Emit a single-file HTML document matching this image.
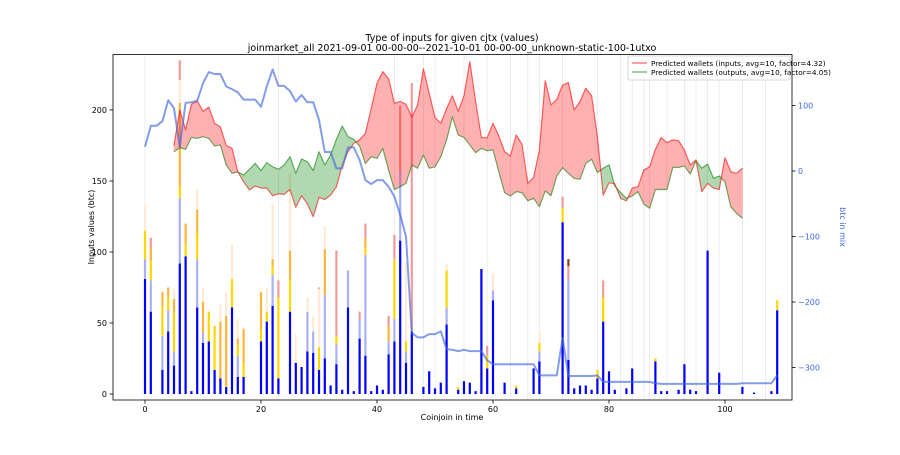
<!DOCTYPE html>
<html><head><meta charset="utf-8"><style>
body{margin:0;background:#fff;font-family:"Liberation Sans","DejaVu Sans",sans-serif}
svg text{font-family:"DejaVu Sans","Liberation Sans",sans-serif}
</style></head><body>
<svg id="chart" width="900" height="450" xmlns="http://www.w3.org/2000/svg">
<text x="452" y="41" font-size="9.5" text-anchor="middle">Type of inputs for given cjtx (values)</text>
<text x="452" y="51" font-size="9.5" text-anchor="middle">joinmarket_all 2021-09-01 00-00-00--2021-10-01 00-00-00_unknown-static-100-1utxo</text>
<g id="grid"></g><g id="bars"></g>
<g id="fillsRed" opacity="0.3"></g>
<g id="fillsGreen" opacity="0.3"></g>
<g id="lines"></g><g id="axes"></g>
<rect x="113" y="54.5" width="679" height="345.5" fill="none" stroke="#000" stroke-width="0.8"/>
<g>
<rect x="628" y="56" width="162" height="24" fill="#fff" fill-opacity="0.8" stroke="#ccc" stroke-width="0.8" rx="2"/>
<line x1="632" y1="63" x2="647" y2="63" stroke="#ff0000" stroke-opacity="0.5" stroke-width="1.5"/>
<text x="651" y="66" font-size="7.3">Predicted wallets (inputs, avg=10, factor=4.32)</text>
<line x1="632" y1="72" x2="647" y2="72" stroke="#008000" stroke-opacity="0.5" stroke-width="1.5"/>
<text x="651" y="75" font-size="7.3">Predicted wallets (outputs, avg=10, factor=4.05)</text>
</g>
<text x="452" y="420" font-size="8" text-anchor="middle">Coinjoin in time</text>
<text x="0" y="0" font-size="8" text-anchor="middle" transform="translate(94,227) rotate(-90)">Inputs values (btc)</text>
<text x="0" y="0" font-size="8" text-anchor="middle" fill="#4169e1" transform="translate(840,227) rotate(90)">btc in mix</text>
</svg>
<script>
const barIndex=[0,1,3,4,5,6,7,8,9,10,11,12,13,14,15,16,17,20,21,22,23,25,26,27,28,29,30,31,32,33,34,35,36,37,38,39,40,41,42,43,44,45,46,48,49,50,51,52,54,55,56,57,58,59,60,62,64,67,68,72,73,74,75,76,77,78,79,80,81,83,84,88,89,90,92,93,94,95,97,99,103,105,108,109];
const blueTop=[81,58,17,44,20,92,97,2,61,36,37,17,11,5,61,12,12,37,51,62,11,58,22,19,30,29,17,25,6,21,3,61,2,39,27,2,6,3,28,37,108,22,44,5,16,4,8,49,3,9,8,2,88,18,66,8,4,18,23,121,24,4,6,6,3,11,51,16,3,4,18,23,2,2,3,21,3,2,101,15,5,1,2,59];
const lightTop=[95,80,41,59,30,138,0,0,95,43,0,0,0,0,0,27,0,0,0,84,0,0,0,0,58,44,0,70,0,35,0,87,0,52,98,0,0,0,37,53,157,30,0,0,0,0,0,61,0,0,0,0,0,0,73,0,0,0,30,0,80,0,0,0,0,0,0,0,0,0,0,0,0,0,0,0,0,0,0,0,0,0,0,0];
const goldTop=[115,94,62,68,57,146,106,0,113,0,58,48,0,6,81,35,22,45,58,90,68,81,0,0,0,0,33,0,0,41,0,0,0,0,103,0,0,0,0,95,0,37,0,0,0,0,0,87,5,0,0,0,0,27,0,0,6,0,36,131,0,0,0,0,0,17,68,0,0,0,0,25,0,0,0,0,0,0,0,0,0,0,0,66];
const orangeTop=[0,103,72,75,67,205,120,0,130,65,0,0,51,55,0,39,46,72,0,95,0,101,0,0,0,0,0,102,0,0,0,0,0,0,110,0,0,0,48,0,0,0,0,0,0,0,0,0,0,0,0,0,0,0,0,0,0,0,0,0,0,0,0,0,0,0,0,0,0,0,0,0,0,0,0,0,0,0,0,0,0,0,0,0];
const bisqueTop=[133,0,0,0,74,221,0,0,144,75,0,0,63,72,106,53,0,0,75,134,0,156,42,0,68,55,74,118,0,0,0,0,0,0,0,0,0,0,0,0,0,93,0,0,0,0,0,92,0,0,0,0,0,0,85,0,0,0,44,0,0,0,0,0,0,0,0,0,0,0,0,0,0,0,0,0,0,0,0,0,0,0,0,0];
const pinkTop=[0,110,0,0,0,235,0,0,0,0,0,0,0,0,0,0,0,0,0,0,80,0,0,0,0,0,75,0,0,101,0,0,0,58,120,0,0,0,55,112,203,0,219,0,0,0,0,0,0,0,0,0,0,34,0,0,0,0,0,139,90,0,0,0,0,0,80,0,0,0,0,0,0,0,0,0,0,0,0,0,0,0,0,0];
const brownTop=[0,0,0,0,0,0,0,0,0,0,0,0,0,0,0,0,0,0,0,0,0,0,0,0,0,0,0,0,0,0,0,0,0,0,0,0,0,0,0,0,0,0,0,0,0,0,0,0,0,0,0,0,0,0,0,0,0,0,0,0,95,0,0,0,0,0,0,0,0,0,0,0,0,0,0,0,0,0,0,0,0,0,0,0];
const walletStart=5;
const inputsWallets=[175,200,186,204,206.5,199,202,190.6,188,175,173,156.5,149.5,143.7,146.5,145,145,139.7,141,140.6,144,131.5,139.7,133.8,124.9,138.5,137,140,146,161,170.6,176.5,179,183.6,201,218.8,227,222,204.7,206,204,195,203.5,229,211.7,194.8,190.6,201,210,199,210,234,206,180.5,180.5,190.6,181.7,170.6,167.6,182.4,175.8,148.4,152.4,171.8,220.6,203.5,207.5,217.6,219.2,200,206,215.3,210,181.2,140,148.8,148,137.8,136,145,146,157.7,160,172.3,180.5,177,179,178.4,171.8,161.3,164.8,142.5,148.4,145,144,166.4,156.6,155.4,159];
const outputsWallets=[170.6,173.5,172.3,180.7,180,181.2,180,174.6,175.4,161.3,155.4,156.5,154.2,158.2,162.4,157.3,162.9,160,158.2,161.3,167.1,155.4,165.5,163.5,157.3,170.6,161.3,168.3,179.3,188.7,181.2,179.3,174.6,162.4,167.1,166,173,157.7,144,146,148.4,161.3,159,168.3,159,160,167.1,178.9,195.3,182.4,180.7,175.4,170,173,171.3,172,156.6,141.8,139.4,142.5,141.8,136.1,137.8,131.9,143,139.7,153.5,159.4,155.4,151.9,151.2,162.4,165.3,155.9,159,161.3,146.5,141.8,137.8,139.4,142.5,133.8,130.8,144,144,144,159.6,159.6,160.6,154.9,164.3,159,162,151.9,153.5,149.5,131.9,127.2,123.7];
const btcInMix=[37,69,69,76,108,96,37,104,105,107,134,151,148,148,129,125,120,109,109,109,98,129,155,130,130,122,106,116,105,105,78,29,29,4,4,36,36,17,-14,-20,-14,-14,-24,-39,-67,-100,-247,-254,-254,-249,-249,-245,-272,-273,-275,-273,-275,-275,-275,-289,-295,-295,-295,-295,-295,-295,-295,-295,-312,-312,-312,-312,-255,-313,-313,-313,-313,-313,-312,-322,-322,-322,-322,-322,-322,-322,-322,-322,-324,-325,-325,-325,-325,-325,-325,-325,-325,-325,-325,-325,-325,-325,-325,-324,-324,-324,-324,-324,-324,-312];
const gridIdx=[0,23,43,48,50,55,59,63,66,68,72,78,82,84,86,87,90,93,95,97,99,103,107];
const xTicks=[0,20,40,60,80,100];
const yTicks=[0,50,100,150,200];
const y2Ticks=[100,0,-100,-200,-300];

const NS="http://www.w3.org/2000/svg";
const X=i=>145+5.8*i, Y=v=>394-1.42*v, Y2=v=>171-0.655*v;
function mk(p,tag,at){const e=document.createElementNS(NS,tag);for(const k in at)e.setAttribute(k,at[k]);p.appendChild(e);return e;}
const G=id=>document.getElementById(id);

gridIdx.forEach(i=>{const l=mk(G('grid'),'line',{x1:X(i),x2:X(i),y1:55,y2:400,stroke:'#e8e8e8','stroke-width':0.8});

});

const layers=[[blueTop,'#0000ff'],[lightTop,'#a9b0f7'],[goldTop,'#ffd700'],[orangeTop,'#ffb43c'],[bisqueTop,'#fdebd6'],[pinkTop,'#f29a9a'],[brownTop,'#8b3a1a']];
barIndex.forEach((idx,k)=>{let prev=0;layers.forEach(([arr,col])=>{const t=arr[k];if(t>prev){const r=mk(G('bars'),'rect',{x:X(idx)-1.1,width:2.2,y:Y(t),height:Y(prev)-Y(t),fill:col});

prev=t;}});});

for(let j=0;j<inputsWallets.length-1;j++){
 const x0=X(walletStart+j),x1=X(walletStart+j+1),r0=inputsWallets[j],r1=inputsWallets[j+1],g0=outputsWallets[j],g1=outputsWallets[j+1];
 const d0=r0-g0,d1=r1-g1;const polys=[];
 if(d0*d1>=0){polys.push([[x0,r0],[x1,r1],[x1,g1],[x0,g0],(d0+d1)>=0]);}
 else{const t=d0/(d0-d1),xc=x0+t*(x1-x0),vc=r0+t*(r1-r0);polys.push([[x0,r0],[xc,vc],[x0,g0],d0>0]);polys.push([[xc,vc],[x1,r1],[x1,g1],d1>0]);}
 polys.forEach(p=>{const red=p.pop();const col=red?'#ff0000':'#008000';const pg=mk(G(red?'fillsRed':'fillsGreen'),'polygon',{points:p.map(q=>q[0]+','+Y(q[1])).join(' '),fill:col,stroke:col,'stroke-width':0.6});
 
 });
}
function line(arr,start,fy,col,w,op,name){const l=mk(G('lines'),'polyline',{points:arr.map((v,i)=>X(start+i)+','+fy(v)).join(' '),fill:'none',stroke:col,'stroke-width':w,'stroke-opacity':op,'stroke-linejoin':'round'});

}
line(outputsWallets,walletStart,Y,'#008000',1.2,0.55,'outputs-wallets-line');
line(inputsWallets,walletStart,Y,'#ff0000',1.2,0.55,'inputs-wallets-line');
line(btcInMix,0,Y2,'#4169e1',2,0.65,'btc-in-mix-line');

const A=G('axes');
xTicks.forEach(t=>{mk(A,'line',{x1:X(t),x2:X(t),y1:400,y2:403.5,stroke:'#000','stroke-width':0.8});const tx=mk(A,'text',{x:X(t),y:412,'font-size':8,'text-anchor':'middle'});tx.textContent=t;

});
yTicks.forEach(t=>{mk(A,'line',{x1:109.5,x2:113,y1:Y(t),y2:Y(t),stroke:'#000','stroke-width':0.8});const tx=mk(A,'text',{x:107,y:Y(t)+3,'font-size':8,'text-anchor':'end'});tx.textContent=t;

});
y2Ticks.forEach(t=>{mk(A,'line',{x1:792,x2:795.5,y1:Y2(t),y2:Y2(t),stroke:'#000','stroke-width':0.8});const tx=mk(A,'text',{x:798,y:Y2(t)+3,'font-size':8,fill:'#4169e1'});tx.textContent=t<0?'\u2212'+(-t):t;

});
</script>
</body></html>
